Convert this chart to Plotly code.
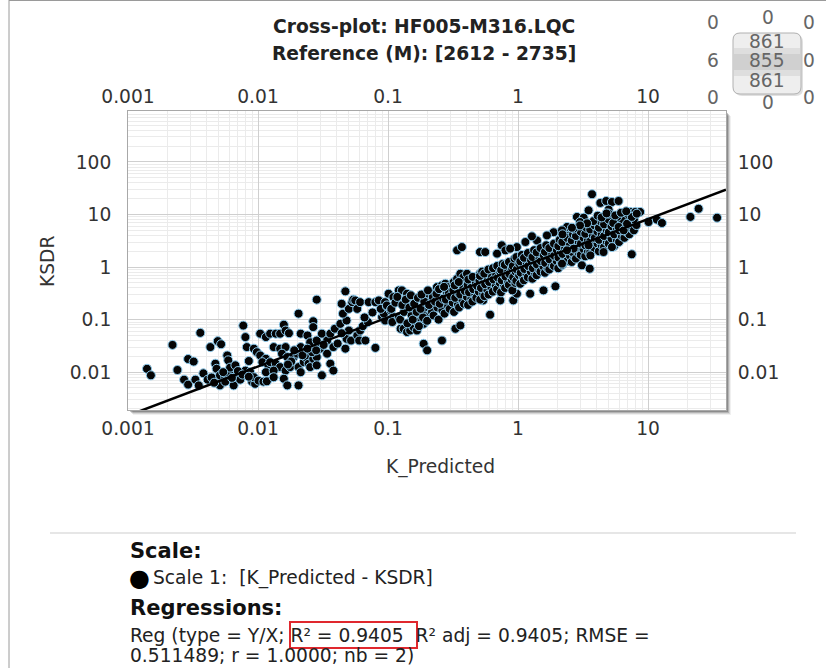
import plotly.graph_objects as go

# ---------------- data (K_Predicted, KSDR) ----------------
low_tail = [
    (0.0014, 0.0116), (0.0015, 0.0087), (0.0022, 0.033), (0.0024, 0.011), (0.0036, 0.056),
    (0.0029, 0.0178), (0.0032, 0.0159), (0.0027, 0.0072), (0.0029, 0.0058), (0.0033, 0.0072),
    (0.0035, 0.0056), (0.0038, 0.0095), (0.0043, 0.030), (0.0049, 0.039), (0.0052, 0.034),
    (0.0041, 0.0072), (0.0044, 0.0079), (0.0047, 0.0145), (0.0048, 0.0116), (0.0058, 0.0208),
    (0.0059, 0.0168), (0.0051, 0.0087), (0.0056, 0.0080), (0.0051, 0.0056), (0.0060, 0.0096),
    (0.0056, 0.0066), (0.0065, 0.0056), (0.0061, 0.0122), (0.0067, 0.0135), (0.0069, 0.0087),
    (0.0073, 0.0072), (0.0077, 0.077), (0.0080, 0.0465), (0.0082, 0.030), (0.0085, 0.0163),
    (0.0080, 0.0107), (0.0087, 0.0100), (0.0093, 0.028), (0.0098, 0.024), (0.0090, 0.0066),
    (0.0095, 0.0060), (0.0093, 0.0080), (0.0104, 0.054), (0.0115, 0.0465), (0.0104, 0.0208),
    (0.0115, 0.018), (0.0108, 0.0155), (0.0120, 0.0135), (0.0115, 0.010), (0.0101, 0.0069),
    (0.0110, 0.0066), (0.0117, 0.0067), (0.0063, 0.0078), (0.0070, 0.0105), (0.0076, 0.0090),
    (0.0085, 0.0082), (0.0054, 0.0100), (0.0046, 0.0063),
]

mid_tail = [
    (0.0124, 0.054), (0.0137, 0.054), (0.0148, 0.054), (0.0158, 0.080), (0.0163, 0.062),
    (0.0173, 0.055), (0.0132, 0.030), (0.0148, 0.028), (0.0163, 0.030), (0.0153, 0.0225),
    (0.0168, 0.0194), (0.0124, 0.0155), (0.0137, 0.0145), (0.0148, 0.0125), (0.0132, 0.0107),
    (0.0163, 0.0107), (0.0177, 0.0125), (0.0132, 0.0080), (0.0158, 0.0075), (0.0168, 0.0056),
    (0.0205, 0.0056), (0.0205, 0.0125), (0.0213, 0.0100), (0.0225, 0.0155), (0.0188, 0.0194),
    (0.0200, 0.0225), (0.0213, 0.030), (0.0232, 0.0194), (0.0245, 0.0145), (0.0252, 0.0125),
    (0.0266, 0.018), (0.0283, 0.0194), (0.0205, 0.13), (0.0213, 0.054), (0.024, 0.050),
    (0.0266, 0.093), (0.0266, 0.072), (0.0283, 0.24), (0.0252, 0.037), (0.0283, 0.040),
    (0.031, 0.054), (0.034, 0.040), (0.036, 0.054), (0.038, 0.030), (0.030, 0.028),
    (0.034, 0.0225), (0.0283, 0.0135), (0.031, 0.0087), (0.036, 0.0145), (0.038, 0.0107),
    (0.039, 0.067), (0.043, 0.083), (0.048, 0.096), (0.045, 0.13), (0.050, 0.16),
    (0.053, 0.215), (0.054, 0.24), (0.047, 0.345), (0.044, 0.20), (0.047, 0.028),
    (0.048, 0.043), (0.052, 0.040), (0.050, 0.062), (0.058, 0.050), (0.060, 0.040),
    (0.067, 0.040), (0.061, 0.062), (0.056, 0.232), (0.058, 0.16), (0.061, 0.215),
    (0.071, 0.215), (0.080, 0.215), (0.085, 0.232), (0.076, 0.137), (0.095, 0.215),
    (0.080, 0.029), (0.090, 0.112), (0.095, 0.096), (0.093, 0.13), (0.018, 0.016),
    (0.022, 0.021), (0.026, 0.024), (0.019, 0.026), (0.024, 0.028), (0.017, 0.014),
    (0.028, 0.026), (0.032, 0.033), (0.041, 0.035), (0.044, 0.055), (0.064, 0.075),
    (0.070, 0.090), (0.066, 0.110), (0.088, 0.160), (0.098, 0.180),
]

upper_scatter = [
    (0.101, 0.311), (0.110, 0.268), (0.121, 0.36), (0.128, 0.36), (0.140, 0.311),
    (0.098, 0.186), (0.105, 0.150), (0.110, 0.112), (0.108, 0.090), (0.121, 0.112),
    (0.125, 0.067), (0.132, 0.067), (0.140, 0.058), (0.148, 0.062), (0.157, 0.072),
    (0.167, 0.090), (0.172, 0.112), (0.162, 0.130), (0.188, 0.130), (0.20, 0.173),
    (0.194, 0.232), (0.212, 0.25), (0.205, 0.311), (0.224, 0.268), (0.231, 0.334),
    (0.238, 0.416), (0.26, 0.448), (0.276, 0.482), (0.284, 0.311), (0.292, 0.416),
    (0.32, 0.518), (0.34, 0.60), (0.36, 0.746), (0.38, 0.645), (0.405, 0.746),
    (0.417, 0.482), (0.43, 0.311), (0.456, 0.232), (0.484, 0.558), (0.51, 0.746),
    (0.188, 0.0347), (0.20, 0.026), (0.26, 0.040), (0.33, 0.067), (0.36, 0.0775),
    (0.34, 2.08), (0.37, 2.40), (0.51, 1.93), (0.56, 1.93), (0.75, 2.59), (0.80, 2.08),
    (0.61, 0.124), (0.92, 0.232), (0.73, 0.232), (0.54, 0.232), (0.36, 0.232),
    (0.284, 0.215), (0.212, 0.13), (0.188, 0.083), (0.167, 0.062),
    (1.88, 4.6), (1.67, 4.0), (1.40, 3.2), (1.14, 3.0), (0.98, 2.4), (0.87, 2.24),
    (0.69, 1.80), (1.28, 3.84), (2.38, 5.4), (2.31, 4.3), (1.94, 0.43), (1.24, 0.311),
    (1.57, 0.36), (0.98, 0.311), (0.73, 0.334),
]

high_tail = [
    (3.71, 24.3), (4.3, 16.6), (4.77, 18.1), (5.28, 17.3), (5.94, 18.1), (3.49, 12.0),
    (4.98, 12.4), (4.98, 10.4), (2.84, 9.0), (3.2, 8.7), (3.0, 7.2), (2.38, 5.8),
    (2.18, 5.0), (2.68, 5.4), (7.3, 11.2), (8.0, 11.2), (8.7, 11.2), (6.9, 9.7),
    (6.3, 7.75), (5.8, 9.0), (5.4, 6.9), (5.94, 5.8), (6.5, 5.0), (6.9, 6.7), (7.5, 9.0),
    (8.2, 10.4), (10.1, 7.2), (11.7, 8.0), (12.8, 6.9), (21.2, 9.0), (24.5, 12.9),
    (34.0, 8.7), (7.5, 1.75), (3.6, 1.67), (3.1, 1.08), (3.56, 0.93), (4.55, 1.93),
    (5.28, 2.4), (3.49, 2.59), (2.68, 2.24), (2.38, 2.08), (2.18, 1.16),
    (3.8, 7.5), (4.1, 9.5), (3.4, 6.8), (4.4, 8.8), (3.0, 6.2), (2.6, 5.6), (2.2, 4.2),
    (4.8, 10.5), (5.6, 9.6), (6.2, 10.8), (6.8, 11.5),
]

core = [
    (0.106, 0.16), (0.114, 0.21), (0.118, 0.27),
    (0.124, 0.10), (0.133, 0.14), (0.129, 0.19), (0.137, 0.24),
    (0.141, 0.085), (0.152, 0.12), (0.146, 0.17), (0.150, 0.29),
    (0.155, 0.10), (0.166, 0.14), (0.159, 0.20), (0.170, 0.26),
    (0.173, 0.075), (0.186, 0.11), (0.178, 0.16), (0.190, 0.22), (0.181, 0.30),
    (0.200, 0.095), (0.218, 0.14), (0.207, 0.19), (0.221, 0.27), (0.203, 0.36),
    (0.224, 0.12), (0.240, 0.17), (0.230, 0.22), (0.236, 0.31),
    (0.245, 0.10), (0.262, 0.15), (0.250, 0.20), (0.266, 0.25), (0.247, 0.38),
    (0.272, 0.13), (0.290, 0.18), (0.279, 0.24), (0.294, 0.33), (0.270, 0.42),
    (0.298, 0.16), (0.315, 0.21), (0.303, 0.28), (0.318, 0.36),
    (0.322, 0.14), (0.345, 0.19), (0.329, 0.26), (0.349, 0.32), (0.326, 0.45),
    (0.352, 0.17), (0.375, 0.23), (0.359, 0.30), (0.380, 0.40), (0.350, 0.52),
    (0.384, 0.20), (0.405, 0.27), (0.390, 0.35), (0.410, 0.46),
    (0.413, 0.19), (0.438, 0.25), (0.420, 0.33), (0.442, 0.42), (0.415, 0.58),
    (0.446, 0.22), (0.470, 0.30), (0.452, 0.38), (0.474, 0.50), (0.448, 0.65),
    (0.478, 0.26), (0.500, 0.34), (0.484, 0.44), (0.505, 0.55),
    (0.512, 0.24), (0.540, 0.31), (0.519, 0.40), (0.545, 0.52), (0.510, 0.68), (0.530, 0.82),
    (0.552, 0.28), (0.582, 0.36), (0.559, 0.47), (0.588, 0.60), (0.550, 0.75),
    (0.594, 0.30), (0.625, 0.40), (0.600, 0.52), (0.632, 0.66), (0.592, 0.90),
    (0.640, 0.34), (0.675, 0.45), (0.648, 0.58), (0.680, 0.72), (0.642, 0.95),
    (0.690, 0.38), (0.725, 0.50), (0.699, 0.63), (0.732, 0.80), (0.692, 1.05),
    (0.740, 0.33), (0.778, 0.44), (0.749, 0.56), (0.785, 0.70), (0.742, 0.88), (0.762, 1.15),
    (0.795, 0.40), (0.836, 0.52), (0.802, 0.66), (0.842, 0.85), (0.792, 1.10),
    (0.850, 0.46), (0.895, 0.58), (0.859, 0.74), (0.900, 0.95), (0.852, 1.25),
    (0.905, 0.36), (0.955, 0.50), (0.919, 0.64), (0.960, 0.82), (0.912, 1.05), (0.940, 1.45),
    (0.970, 0.55), (1.020, 0.70), (0.979, 0.90), (1.025, 1.15), (0.972, 1.55),
    (1.040, 0.48), (1.095, 0.62), (1.049, 0.78), (1.100, 1.00), (1.042, 1.28), (1.070, 1.70),
    (1.110, 0.56), (1.165, 0.72), (1.119, 0.92), (1.170, 1.18), (1.112, 1.50),
    (1.190, 0.64), (1.255, 0.82), (1.199, 1.05), (1.260, 1.35), (1.192, 1.85),
    (1.290, 0.60), (1.355, 0.75), (1.299, 0.95), (1.360, 1.20), (1.292, 1.55), (1.330, 2.10),
    (1.390, 0.70), (1.460, 0.88), (1.399, 1.12), (1.465, 1.45), (1.392, 1.90),
    (1.490, 0.82), (1.570, 1.02), (1.499, 1.30), (1.575, 1.68), (1.492, 2.30),
    (1.610, 0.78), (1.690, 0.95), (1.619, 1.20), (1.695, 1.52), (1.612, 1.95), (1.650, 2.60),
    (1.740, 0.90), (1.830, 1.12), (1.749, 1.40), (1.835, 1.80), (1.742, 2.30),
    (1.890, 1.05), (1.985, 1.30), (1.899, 1.65), (1.990, 2.10), (1.892, 2.80),
    (2.040, 0.95), (2.140, 1.20), (2.049, 1.52), (2.145, 1.95), (2.042, 2.50), (2.090, 3.30),
    (2.190, 1.10), (2.300, 1.40), (2.199, 1.78), (2.305, 2.30), (2.192, 3.00),
    (2.390, 1.30), (2.510, 1.65), (2.399, 2.10), (2.515, 2.70), (2.392, 3.60),
    (2.590, 1.25), (2.720, 1.55), (2.599, 1.95), (2.725, 2.50), (2.592, 3.20), (2.650, 4.20),
    (2.790, 1.45), (2.930, 1.85), (2.799, 2.35), (2.935, 3.00), (2.792, 3.90),
    (3.040, 1.70), (3.190, 2.20), (3.049, 2.80), (3.195, 3.60), (3.042, 4.70),
    (3.290, 1.60), (3.450, 2.00), (3.299, 2.60), (3.455, 3.30), (3.292, 4.30), (3.360, 5.60),
    (3.590, 1.90), (3.760, 2.40), (3.599, 3.10), (3.765, 4.00), (3.592, 5.20),
    (3.890, 2.20), (4.080, 2.80), (3.899, 3.60), (4.085, 4.70), (3.892, 6.20),
    (4.190, 2.00), (4.400, 2.60), (4.199, 3.30), (4.405, 4.30), (4.192, 5.60), (4.290, 7.50),
    (4.590, 2.40), (4.820, 3.00), (4.599, 3.90), (4.825, 5.00), (4.592, 6.50),
    (4.990, 2.80), (5.240, 3.50), (4.999, 4.60), (5.245, 6.00), (4.992, 8.00),
    (5.490, 2.50), (5.760, 3.30), (5.499, 4.20), (5.765, 5.50), (5.492, 7.00),
    (5.990, 3.00), (6.290, 3.90), (5.999, 5.00), (6.295, 6.40), (5.992, 8.40),
    (6.590, 3.60), (6.920, 4.60), (6.599, 5.90), (6.925, 7.60),
    (7.190, 4.20), (7.550, 5.40), (7.199, 7.00), (7.555, 9.20),
    (7.790, 5.00), (8.150, 6.30), (7.799, 8.10),
]

groups = [low_tail, mid_tail, upper_scatter, core, high_tail]
k_predicted = [p[0] for g in groups for p in g]
ksdr = [p[1] for g in groups for p in g]

# regression line (Y/X) end points
reg_x = [0.00115, 39.8]
reg_y = [0.00170, 29.8]

x_ticks = [0.001, 0.01, 0.1, 1, 10]
x_tick_text = ["0.001", "0.01", "0.1", "1", "10"]
y_ticks = [0.01, 0.1, 1, 10, 100]
y_tick_text = ["0.01", "0.1", "1", "10", "100"]
x_range_log = [-3.0, 1.6]
y_range_log = [-2.72, 2.97]

# ---------------- layout helpers ----------------
W, H = 826, 668
L, R, T, B = 128, 100, 111, 258
PW, PH = W - L - R, H - T - B


def xp(px):
    return (px - L) / PW


def yp(py):
    return (H - B - py) / PH


FONT = "DejaVu Sans, Verdana, sans-serif"
FS = 18.67
FSB = 21
TXT = "#333333"

fig = go.Figure()

fig.add_trace(go.Scatter(
    x=k_predicted, y=ksdr, mode="markers",
    marker=dict(color="#050505", size=9, line=dict(color="#8ecdf0", width=1)),
    showlegend=False, hoverinfo="x+y",
))
fig.add_trace(go.Scatter(
    x=reg_x, y=reg_y, mode="lines",
    line=dict(color="#000000", width=2.5), showlegend=False, hoverinfo="skip",
))
# companion trace so the top / right axes are drawn
fig.add_trace(go.Scatter(
    x=reg_x, y=reg_y, mode="lines", xaxis="x2", yaxis="y2",
    line=dict(width=0), opacity=0, showlegend=False, hoverinfo="skip",
))

axis_common = dict(
    type="log", showline=True, linecolor="#a8a8a8", linewidth=1,
    ticks="", tickfont=dict(family=FONT, size=FS, color=TXT),
    zeroline=False,
)

fig.update_layout(
    width=W, height=H,
    margin=dict(l=L, r=R, t=T, b=B),
    paper_bgcolor="white", plot_bgcolor="rgba(0,0,0,0)",
    xaxis=dict(
        **axis_common, range=x_range_log, tickmode="array",
        tickvals=x_ticks, ticktext=x_tick_text,
        showgrid=True, gridcolor="#cfcfcf", gridwidth=1,
        minor=dict(showgrid=True, gridcolor="#ebebeb", dtick="D1", ticks=""),
        mirror=False, ticklabelstandoff=2,
    ),
    yaxis=dict(
        **axis_common, range=y_range_log, tickmode="array",
        tickvals=y_ticks, ticktext=y_tick_text,
        showgrid=True, gridcolor="#cfcfcf", gridwidth=1,
        minor=dict(showgrid=True, gridcolor="#ebebeb", dtick="D1", ticks=""),
        mirror=False, ticklabelstandoff=12,
    ),
    xaxis2=dict(
        **axis_common, range=x_range_log, tickmode="array",
        tickvals=x_ticks, ticktext=x_tick_text, overlaying="x",
        side="top", anchor="y", showgrid=False, ticklabelstandoff=0,
    ),
    yaxis2=dict(
        **axis_common, range=y_range_log, tickmode="array",
        tickvals=y_ticks, ticktext=y_tick_text, overlaying="y",
        side="right", anchor="x", showgrid=False, ticklabelstandoff=7,
    ),
)

shapes = []
# page frame lines (left and top)
shapes.append(dict(type="line", xref="paper", yref="paper", x0=xp(9), x1=xp(9),
                   y0=yp(0), y1=yp(668), line=dict(color="#9a9a9a", width=1)))
shapes.append(dict(type="line", xref="paper", yref="paper", x0=xp(9), x1=xp(826),
                   y0=yp(0.5), y1=yp(0.5), line=dict(color="#9a9a9a", width=1)))
# drop shadow + white plot area
for off, col in [(5, "rgba(0,0,0,0.06)"), (4, "rgba(0,0,0,0.10)"), (3, "rgba(0,0,0,0.16)"), (2, "rgba(0,0,0,0.22)")]:
    shapes.append(dict(type="rect", xref="paper", yref="paper", layer="below",
                       x0=xp(L + off), x1=xp(L + PW + off), y0=yp(T + PH + off), y1=yp(T + off),
                       line=dict(width=0), fillcolor=col))
shapes.append(dict(type="rect", xref="paper", yref="paper", layer="below",
                   x0=0, x1=1, y0=0, y1=1, line=dict(width=0), fillcolor="white"))
# widget box (rounded)
bx0, bx1, by0, by1, r = 733, 801, 33, 94, 7


def rpath(x0, x1, y0, y1, r):
    return (f"M {xp(x0 + r)},{yp(y0)} L {xp(x1 - r)},{yp(y0)} Q {xp(x1)},{yp(y0)} {xp(x1)},{yp(y0 + r)} "
            f"L {xp(x1)},{yp(y1 - r)} Q {xp(x1)},{yp(y1)} {xp(x1 - r)},{yp(y1)} "
            f"L {xp(x0 + r)},{yp(y1)} Q {xp(x0)},{yp(y1)} {xp(x0)},{yp(y1 - r)} "
            f"L {xp(x0)},{yp(y0 + r)} Q {xp(x0)},{yp(y0)} {xp(x0 + r)},{yp(y0)} Z")


shapes.append(dict(type="path", xref="paper", yref="paper", path=rpath(bx0 + 2, bx1 + 2, by0 + 2, by1 + 2, r),
                   fillcolor="rgba(0,0,0,0.12)", line=dict(width=0)))
shapes.append(dict(type="path", xref="paper", yref="paper", path=rpath(bx0, bx1, by0, by1, r),
                   fillcolor="#eeeeee", line=dict(color="#b0b0b0", width=1)))
shapes.append(dict(type="rect", xref="paper", yref="paper", x0=xp(bx0 + 1), x1=xp(bx1 - 1),
                   y0=yp(76), y1=yp(48), fillcolor="#dedede", line=dict(width=0)))
shapes.append(dict(type="rect", xref="paper", yref="paper", x0=xp(bx0 + 1), x1=xp(bx1 - 1),
                   y0=yp(70), y1=yp(54), fillcolor="#d0d0d0", line=dict(width=0)))
# separator
shapes.append(dict(type="line", xref="paper", yref="paper", x0=xp(50), x1=xp(796),
                   y0=yp(533), y1=yp(533), line=dict(color="#e6e6e6", width=2)))
# red highlight box
shapes.append(dict(type="rect", xref="paper", yref="paper", x0=xp(290), x1=xp(417),
                   y0=yp(648), y1=yp(622), line=dict(color="#e0282e", width=2)))
fig.update_layout(shapes=shapes)

ann = []


def text(px, py, s, size=FS, bold=False, color=TXT, xanchor="center", family=FONT, angle=0):
    ann.append(dict(xref="paper", yref="paper", x=xp(px), y=yp(py), text=(f"<b>{s}</b>" if bold else s),
                    showarrow=False, xanchor=xanchor, yanchor="middle", textangle=angle,
                    font=dict(family=family, size=size, color=color)))


text(424, 27, "Cross-plot: HF005-M316.LQC", bold=True, color="#222")
text(424, 54, "Reference (M): [2612 - 2735]", bold=True, color="#222")
# widget numbers
wc = "#666666"
text(768, 17, "0", color=wc)
text(713, 22, "0", color=wc)
text(809, 22, "0", color=wc)
text(713, 61, "6", color=wc)
text(809, 61, "0", color=wc)
text(713, 97, "0", color=wc)
text(809, 97, "0", color=wc)
text(768, 102, "0", color=wc)
text(767, 42, "861", color=wc)
text(767, 61, "855", color=wc)
text(767, 80, "861", color=wc)
# axis titles
text(440, 467, "K_Predicted")
text(47, 262, "KSDR", angle=-90)
# bottom panel
text(128, 551, "Scale:", size=FSB, bold=True, color="#111", xanchor="left")
text(127, 578, "●", size=24, color="#000", xanchor="left")
text(151, 578, "Scale 1:  [K_Predicted - KSDR]", color="#222", xanchor="left")
text(128, 608, "Regressions:", size=FSB, bold=True, color="#111", xanchor="left")
text(128, 635, "Reg (type = Y/X; R² = 0.9405  R² adj = 0.9405; RMSE =", color="#222", xanchor="left")
text(128, 655, "0.511489; r = 1.0000; nb = 2)", color="#222", xanchor="left")
fig.update_layout(annotations=ann)

fig.write_html("out.html", post_script="document.body.style.margin='0px';",
               config={"displayModeBar": False})
